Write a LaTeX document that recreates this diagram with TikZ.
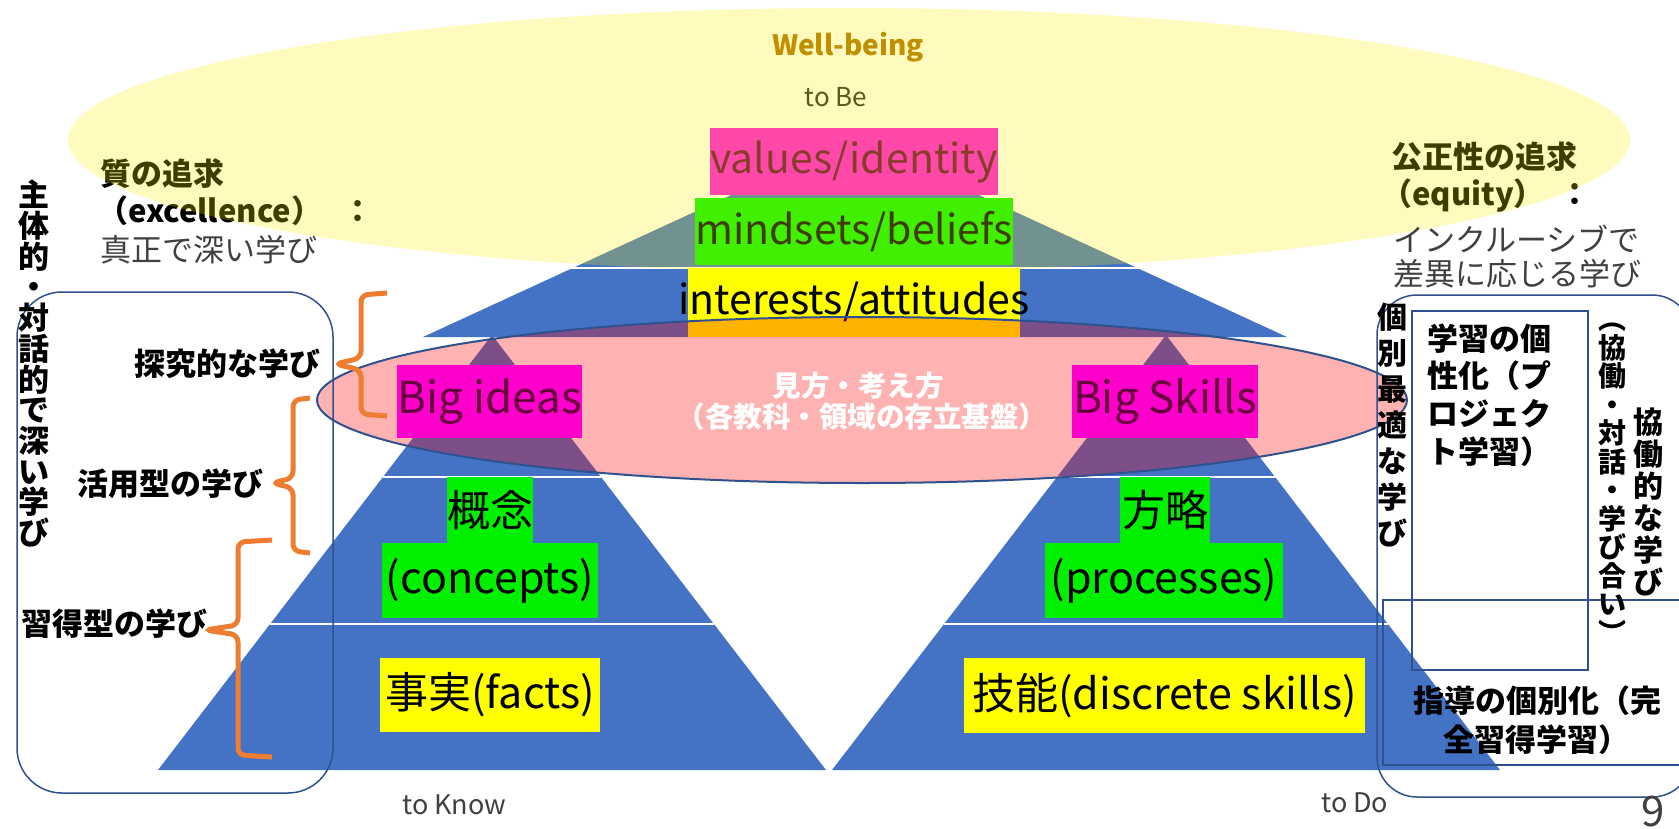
\documentclass[tikz,border=0pt]{standalone}
\usepackage{fontspec}
\setmainfont{Noto Sans CJK JP}
\definecolor{pblue}{RGB}{68,114,196}
\definecolor{oline}{RGB}{47,82,143}
\definecolor{orng}{RGB}{237,125,49}
\definecolor{mag}{RGB}{255,0,204}
\definecolor{magv}{RGB}{255,16,224}
\definecolor{grn}{RGB}{0,240,0}
\definecolor{ylw}{RGB}{255,255,0}
\definecolor{gold}{RGB}{191,144,0}
\definecolor{maroon}{RGB}{100,0,60}
\definecolor{dgray}{RGB}{64,64,64}
\newcommand{\vstack}[2]{\vbox{\baselineskip=#1\lineskiplimit=-100pt\lineskip=0pt\halign{\hfil##\hfil\cr#2\crcr}}}
\tikzset{
  tbox/.style={rectangle, inner sep=0pt, font=\fontsize{43}{43}\selectfont, text=black},
  jlab/.style={inner sep=0pt, font=\fontsize{31}{31}\selectfont\bfseries, text=black},
  jthin/.style={inner sep=0pt, font=\fontsize{31}{31}\selectfont, text=dgray},
  brace/.style={draw=orng, line width=5pt, rounded corners=7pt},
  frame/.style={draw=oline, line width=1.5pt},
  sep/.style={draw=white, line width=2.5pt},
  small/.style={inner sep=0pt, font=\fontsize{27}{27}\selectfont, text=dgray}
}
\begin{document}
\begin{tikzpicture}[x=1pt,y=-1pt]
\useasboundingbox (0,0) rectangle (1679,828);
\fill[white] (0,0) rectangle (1679,828);
% texts lying under the yellow ellipse
\node[jlab, anchor=base west] (q1) at (100,185) {質の追求};
\node[jlab, anchor=base west] (q2) at (97,222) {（excellence）\hspace{20pt}：};
\node[jlab, anchor=base west] (e1) at (1391,168) {公正性の追求};
\node[jlab, anchor=base west] (e2) at (1381,205) {（equity）\hspace{15pt}：};
\node[small, anchor=base, font=\fontsize{26}{26}\selectfont, text=black!85] (tobe) at (836,106) {to Be};
% upper pyramid
\fill[pblue] (855,138) -- (1287,337) -- (423,337) -- cycle;
\draw[sep] (560,268) -- (1150,268);
\node[tbox, fill=magv, text=maroon, minimum width=264, minimum height=67, font=\fontsize{41}{41}\selectfont] (vals) at (854,161.5) {values/identity};
\node[tbox, fill=grn, minimum width=302, minimum height=67, font=\fontsize{41}{41}\selectfont] (minds) at (854,231.5) {mindsets/beliefs};
% yellow ellipse
\fill[yellow, opacity=0.25] (849,140) ellipse [x radius=781, y radius=132];
\node[inner sep=0pt, anchor=base, font=\fontsize{28}{28}\selectfont\bfseries, text=gold] (wb) at (848,55) {Well-being};
\node[jthin, anchor=base west] (q3) at (100,261) {真正で深い学び};
\node[jthin, anchor=base west] (e3) at (1393,251) {インクルーシブで};
\node[jthin, anchor=base west] (e4) at (1393,285) {差異に応じる学び};
% lower pyramids
\fill[pblue] (492,335) -- (826,770) -- (158,770) -- cycle;
\fill[pblue] (1166,335) -- (1500,770) -- (832,770) -- cycle;
\draw[sep] (383,477) -- (601,477);
\draw[sep] (1057,477) -- (1275,477);
\draw[sep] (270,624) -- (714,624);
\draw[sep] (944,624) -- (1388,624);
\node[tbox, fill=ylw, minimum width=332, minimum height=69] (inter) at (854,302.5) {};
\node[inner sep=0pt, anchor=base, font=\fontsize{41}{41}\selectfont] (intert) at (854,314) {interests/attitudes};
% pink ellipse
\filldraw[fill=red, fill opacity=0.3, draw=oline, line width=2pt] (862,400) ellipse [x radius=545, y radius=83];
\node[tbox, fill=mag, text=maroon, minimum width=185, minimum height=73, font=\fontsize{44}{44}\selectfont] (bigI) at (489.5,401.5) {Big ideas};
\node[tbox, fill=mag, text=maroon, minimum width=186, minimum height=73, font=\fontsize{44}{44}\selectfont] (bigS) at (1165,401.5) {Big Skills};
\node[inner sep=0pt, anchor=base, font=\fontsize{28.5}{28.5}\selectfont\bfseries, text=white] (mk1) at (858,396) {見方・考え方};
\node[inner sep=0pt, anchor=base, font=\fontsize{28.5}{28.5}\selectfont\bfseries, text=white] (mk2) at (862,427) {（各教科・領域の存立基盤）};
% boxes in the lower pyramids
\node[tbox, fill=grn, minimum width=86, minimum height=66] (kgn) at (490,510) {概念};
\node[tbox, fill=grn, minimum width=216, minimum height=75] (conc) at (490,580.5) {(concepts)};
\node[tbox, fill=ylw, minimum width=220, minimum height=74] (fact) at (490,695) {事実(facts)};
\node[tbox, fill=grn, minimum width=90, minimum height=66] (hry) at (1165,510) {方略};
\node[tbox, fill=grn, minimum width=238, minimum height=75] (proc) at (1164,580.5) {(processes)};
\node[tbox, fill=ylw, minimum width=401, minimum height=75] (skl) at (1164.5,695.5) {技能(discrete skills)};
% left frame
\draw[frame, rounded corners=45pt] (17,292) rectangle (333,793);
\node[inner sep=0pt, anchor=north, font=\fontsize{31}{31}\selectfont\bfseries] (vl) at (34,180) {\vstack{30.7pt}{主\cr 体\cr 的\cr ・\cr 対\cr 話\cr 的\cr で\cr 深\cr い\cr 学\cr び}};
\draw[brace] (387,293) -- (361,295) -- (361,358) -- (335,364) -- (361,370) -- (361,414) -- (387,416);
\draw[brace] (310,398) -- (293,400) -- (293,478) -- (272,483) -- (293,488) -- (293,551) -- (310,553);
\draw[brace] (272,540) -- (238,542) -- (238,625) -- (205,630) -- (238,635) -- (238,755) -- (272,757);
\node[jlab, anchor=base west] (tk1) at (134,375) {探究的な学び};
\node[jlab, anchor=base west] (tk2) at (77,495) {活用型の学び};
\node[jlab, anchor=base west] (tk3) at (21,635) {習得型の学び};
% right frame
\draw[frame, rounded corners=40pt] (1377,295) rectangle (1692,797);
\draw[frame] (1412,311) rectangle (1588,670);
\draw[frame] (1383,600) rectangle (1700,765);
\node[inner sep=0pt, anchor=north, font=\fontsize{30}{30}\selectfont\bfseries] (vr1) at (1392,303) {\vstack{36pt}{個\cr 別\cr 最\cr 適\cr な\cr 学\cr び}};
\node[inner sep=0pt, anchor=north, font=\fontsize{28}{28}\selectfont\bfseries] (vr2) at (1612,323) {\vstack{28.5pt}{︵\cr 協\cr 働\cr ・\cr 対\cr 話\cr ・\cr 学\cr び\cr 合\cr い\cr ︶}};
\node[inner sep=0pt, anchor=north, font=\fontsize{30}{30}\selectfont\bfseries] (vr3) at (1648,408) {\vstack{32pt}{協\cr 働\cr 的\cr な\cr 学\cr び}};
\node[jlab, anchor=base west] (g1) at (1427,350) {学習の個};
\node[jlab, anchor=base west] (g2) at (1427,387) {性化（プ};
\node[jlab, anchor=base west] (g3) at (1427,425) {ロジェク};
\node[jlab, anchor=base west] (g4) at (1427,463) {ト学習）};
\node[jlab, anchor=base] (s1) at (1537,712) {指導の個別化（完};
\node[jlab, anchor=base] (s2) at (1536,751) {全習得学習）};
% bottom labels
\node[small, anchor=base west] (tknow) at (402,814) {to Know};
\node[small, anchor=base west] (tdo) at (1321,812) {to Do};
\node[small, anchor=base west, font=\fontsize{42}{42}\selectfont] (pg) at (1641,826) {9};
\end{tikzpicture}
\end{document}
